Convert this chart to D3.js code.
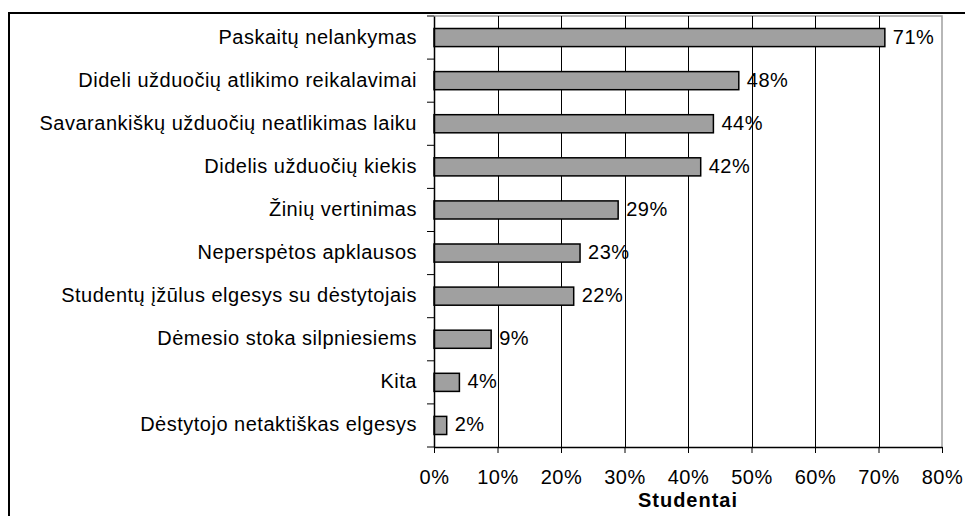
<!DOCTYPE html>
<html>
<head>
<meta charset="utf-8">
<script src="https://cdn.jsdelivr.net/npm/d3@7"></script>
<style>
    body { margin: 0; background: #fff; }
    svg { display: block; font-family: "Liberation Sans", Arial, sans-serif; }
    .lbl { font-size: 20px; letter-spacing: 0.5px; fill: #000; }
    .title { font-size: 20px; font-weight: bold; letter-spacing: 1px; }
</style>
</head>
<body>
<svg id="chart"></svg>
<script>

const categories = [
    "Paskaitų nelankymas",
    "Dideli užduočių atlikimo reikalavimai",
    "Savarankiškų užduočių neatlikimas laiku",
    "Didelis užduočių kiekis",
    "Žinių vertinimas",
    "Neperspėtos apklausos",
    "Studentų įžūlus elgesys su dėstytojais",
    "Dėmesio stoka silpniesiems",
    "Kita",
    "Dėstytojo netaktiškas elgesys"
];

const values = [71, 48, 44, 42, 29, 23, 22, 9, 4, 2];

const xTicks = [0, 10, 20, 30, 40, 50, 60, 70, 80];

const axisTitle = "Studentai";

const width = 965;
const height = 516;
const margin = { top: 16, right: 23, bottom: 69, left: 434 };

const svg = d3.select("#chart")
    .attr("width", width)
    .attr("height", height);

// Outer frame
svg.append("rect")
    .attr("x", 9)
    .attr("y", 13)
    .attr("width", width + 20)
    .attr("height", height + 20)
    .attr("fill", "none")
    .attr("stroke", "#000")
    .attr("stroke-width", 2);

const x = d3.scaleLinear()
    .domain([0, 80])
    .range([margin.left, width - margin.right]);

const y = d3.scaleBand()
    .domain(categories)
    .range([margin.top, height - margin.bottom])
    .paddingInner(0.58)
    .paddingOuter(0.29);

const plotTop = margin.top;
const plotBottom = height - margin.bottom;

// Plot border (gray, top and right)
svg.append("path")
    .attr("d", `M ${ x(0) } ${ plotTop } H ${ x(80) } V ${ plotBottom }`)
    .attr("fill", "none")
    .attr("stroke", "#a0a0a0")
    .attr("stroke-width", 1.5);

// Grid lines
svg.append("g")
    .selectAll("line")
    .data(xTicks.filter(d => d > 0 && d < 80))
    .join("line")
    .attr("x1", d => Math.round(x(d)) + 0.5)
    .attr("x2", d => Math.round(x(d)) + 0.5)
    .attr("y1", plotTop)
    .attr("y2", plotBottom)
    .attr("stroke", "#000")
    .attr("stroke-width", 1);

// Bars
svg.append("g")
    .selectAll("rect")
    .data(values)
    .join("rect")
    .attr("x", x(0))
    .attr("y", (d, i) => y(categories[i]))
    .attr("width", d => x(d) - x(0))
    .attr("height", y.bandwidth())
    .attr("fill", "#a0a0a0")
    .attr("stroke", "#000")
    .attr("stroke-width", 1.5);

// Value labels
svg.append("g")
    .selectAll("text")
    .data(values)
    .join("text")
    .attr("class", "lbl")
    .attr("x", d => x(d) + 8)
    .attr("y", (d, i) => y(categories[i]) + y.bandwidth() / 2)
    .attr("dy", "0.3em")
    .text(d => d + "%");

// X axis
const xAxis = svg.append("g")
    .attr("transform", `translate(0, ${ plotBottom })`)
    .call(d3.axisBottom(x)
        .tickValues(xTicks)
        .tickFormat(d => d + "%")
        .tickSize(6)
        .tickPadding(17)
        .tickSizeOuter(0));

xAxis.select(".domain").attr("stroke", "#000").attr("stroke-width", 1.5);
xAxis.selectAll(".tick line").attr("stroke", "#000");
xAxis.selectAll(".tick text")
    .attr("class", "lbl")
    .style("font-family", "inherit");

// Y axis
const yAxis = svg.append("g")
    .attr("transform", `translate(${ x(0) }, 0)`)
    .call(d3.axisLeft(y)
        .tickSize(0)
        .tickPadding(17)
        .tickSizeOuter(0));

yAxis.select(".domain").attr("stroke", "#000").attr("stroke-width", 1.5);
yAxis.selectAll(".tick text")
    .attr("class", "lbl")
    .style("font-family", "inherit")
    .attr("dy", "0.3em");

// Category boundary ticks
const bounds = d3.range(categories.length + 1)
    .map(i => margin.top + i * y.step());

svg.append("g")
    .selectAll("line")
    .data(bounds)
    .join("line")
    .attr("x1", x(0) - 7)
    .attr("x2", x(0))
    .attr("y1", d => d)
    .attr("y2", d => d)
    .attr("stroke", "#000")
    .attr("stroke-width", 1);

// Axis title
svg.append("text")
    .attr("class", "title")
    .attr("x", (x(0) + x(80)) / 2)
    .attr("y", 507)
    .attr("text-anchor", "middle")
    .text(axisTitle);

</script>
</body>
</html>
